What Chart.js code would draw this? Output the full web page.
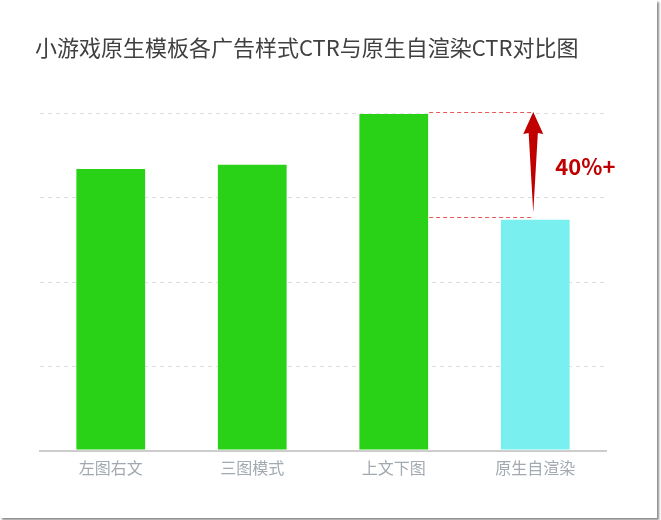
<!DOCTYPE html>
<html>
<head>
<meta charset="utf-8">
<script src="https://cdn.jsdelivr.net/npm/chart.js@4.4.1/dist/chart.umd.min.js"></script>
<style>
  html, body { margin: 0; padding: 0; background: #ffffff; }
  #frame {
    position: absolute; left: 0; top: 0;
    width: 657px; height: 518px;
    background: #ffffff;
    box-shadow: 2px 2px 2px rgba(0,0,0,0.45);
  }
  #wrap { position: absolute; left: 0; top: 0; width: 657px; height: 518px; }
</style>
</head>
<body>
<div id="frame"><div id="wrap"><canvas id="c"></canvas></div></div>
<script>
const chartTitle = '小游戏原生模板各广告样式CTR与原生自渲染CTR对比图';
const categories = ['左图右文', '三图模式', '上文下图', '原生自渲染'];
const ctrValues = [3.35, 3.40, 4.00, 2.75];
const barColors = ['#29d216', '#29d216', '#29d216', '#7aeff0'];
const yMin = 0, yMax = 4, yStep = 1;
const liftLabel = '40%+';
const compareFrom = 2; // 上文下图
const compareTo = 3;   // 原生自渲染

const overlay = {
  id: 'overlay',
  beforeDraw(chart) {
    const ctx = chart.ctx;
    ctx.save();
    ctx.fillStyle = '#ffffff';
    ctx.fillRect(0, 0, chart.width, chart.height);
    ctx.fillStyle = '#404040';
    ctx.font = '22px "Noto Sans CJK SC", "Noto Sans", sans-serif';
    ctx.textBaseline = 'middle';
    ctx.textAlign = 'left';
    ctx.fillText(chartTitle, 35, 48);
    ctx.restore();
  },
  afterDatasetsDraw(chart) {
    const ctx = chart.ctx;
    const y = chart.scales.y;
    const meta = chart.getDatasetMeta(0);
    const hiBar = meta.data[compareFrom];
    const loBar = meta.data[compareTo];
    const yTop = y.getPixelForValue(ctrValues[compareFrom]);
    const yLow = y.getPixelForValue(ctrValues[compareTo]);
    const xStart = hiBar.x + hiBar.width / 2;
    const ax = loBar.x - 2;
    const lineTop = Math.round(yTop) - 0.5;
    const lineLow = Math.round(yLow) - 1.5;

    ctx.save();
    // clear grid under the upper reference line
    ctx.strokeStyle = '#ffffff';
    ctx.lineWidth = 2;
    ctx.beginPath();
    ctx.moveTo(xStart + 1, Math.round(yTop)); ctx.lineTo(ax, Math.round(yTop));
    ctx.stroke();
    // dashed reference lines
    ctx.strokeStyle = '#e85a5a';
    ctx.lineWidth = 1;
    ctx.setLineDash([4, 3]);
    ctx.beginPath();
    ctx.moveTo(xStart, lineTop); ctx.lineTo(ax, lineTop);
    ctx.moveTo(xStart, lineLow); ctx.lineTo(ax, lineLow);
    ctx.stroke();
    ctx.setLineDash([]);

    // arrow
    ctx.fillStyle = '#c00000';
    const headH = 21, headHalf = 10, shaftHalf = 4.6;
    ctx.beginPath();
    ctx.moveTo(ax, yTop - 1);
    ctx.lineTo(ax + headHalf, yTop + headH);
    ctx.lineTo(ax + shaftHalf, yTop + headH - 1);
    ctx.lineTo(ax, yLow - 6);
    ctx.lineTo(ax - shaftHalf, yTop + headH - 1);
    ctx.lineTo(ax - headHalf, yTop + headH);
    ctx.closePath();
    ctx.fill();

    // label
    ctx.fillStyle = '#c00000';
    ctx.font = 'bold 22px "Noto Sans CJK SC", "Noto Sans", sans-serif';
    ctx.textBaseline = 'middle';
    ctx.textAlign = 'left';
    ctx.fillText(liftLabel, ax + 22, (yTop + yLow) / 2 + 1);
    ctx.restore();
  }
};

new Chart(document.getElementById('c'), {
  type: 'bar',
  data: {
    labels: categories,
    datasets: [{
      data: ctrValues,
      backgroundColor: barColors,
      borderColor: 'rgba(255,255,255,0.35)',
      borderWidth: 1,
      borderSkipped: false,
      barPercentage: 0.5,
      categoryPercentage: 1.0
    }]
  },
  options: {
    responsive: true,
    maintainAspectRatio: false,
    animation: false,
    events: [],
    layout: { padding: { top: 113, left: 40, right: 51, bottom: 0 } },
    plugins: {
      legend: { display: false },
      title: { display: false },
      tooltip: { enabled: false }
    },
    scales: {
      x: {
        grid: { display: false, drawTicks: false },
        border: { display: true, color: '#cccccc', width: 2 },
        ticks: {
          color: '#a3a9b0',
          font: { family: '"Noto Sans CJK SC", "Noto Sans", sans-serif', size: 16 },
          padding: 7,
          maxRotation: 0
        },
        afterFit(axis) { axis.height = 67; }
      },
      y: {
        min: yMin, max: yMax,
        ticks: { display: false, stepSize: yStep },
        border: { display: false, dash: [4, 4] },
        grid: { color: '#dcdcdc', lineWidth: 1, drawTicks: false },
        afterFit(axis) { axis.width = 0; }
      }
    }
  },
  plugins: [overlay]
});
</script>
</body>
</html>
